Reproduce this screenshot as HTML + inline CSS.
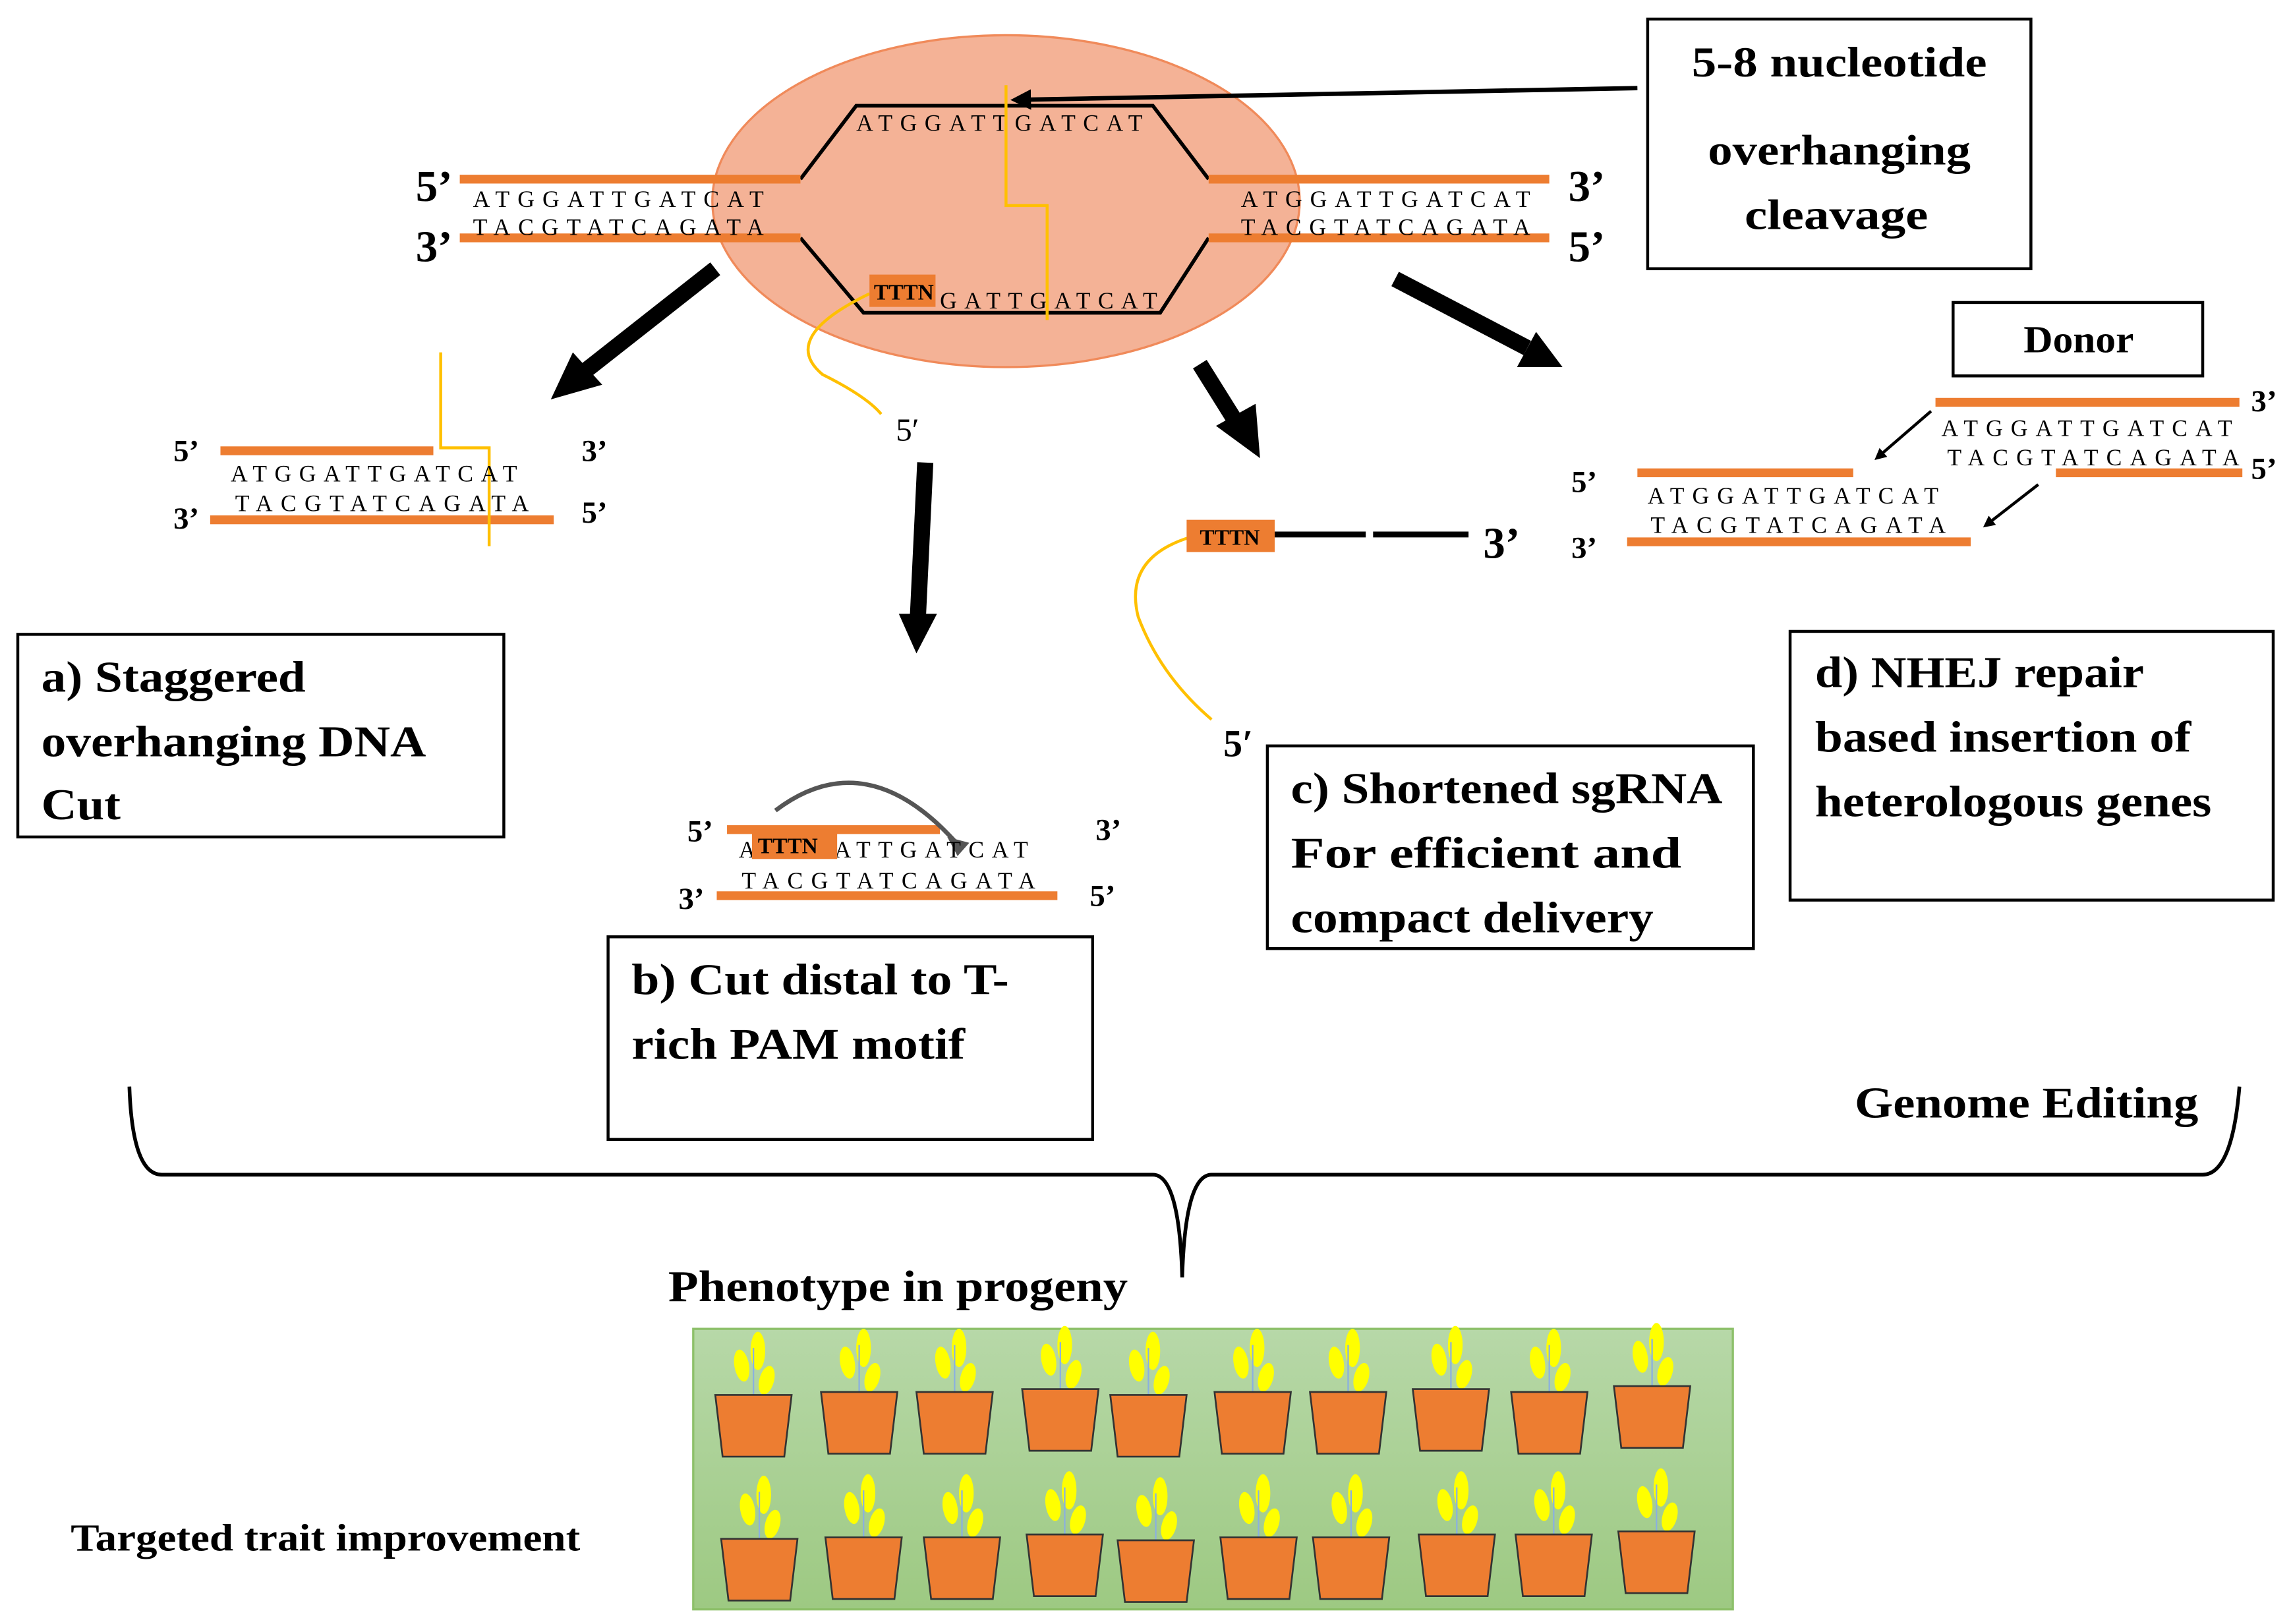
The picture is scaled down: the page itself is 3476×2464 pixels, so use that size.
<!DOCTYPE html>
<html><head><meta charset="utf-8"><style>
html,body{margin:0;padding:0;background:#fff;}
svg{display:block;}
text{font-family:"Liberation Serif",serif;}
.b{font-weight:bold;}
</style></head><body>
<svg width="3476" height="2464" viewBox="0 0 1560 1106" xmlns="http://www.w3.org/2000/svg">
<defs>
<linearGradient id="g" x1="0" y1="0" x2="0" y2="1"><stop offset="0" stop-color="#b7d8a8"/><stop offset="1" stop-color="#9dc982"/></linearGradient>
<marker id="ah" markerWidth="8" markerHeight="8" refX="6" refY="4" orient="auto" markerUnits="userSpaceOnUse"><path d="M0,0 L8,4 L0,8 Z" fill="#000"/></marker>
<marker id="ah2" markerWidth="14" markerHeight="14" refX="10" refY="7" orient="auto" markerUnits="userSpaceOnUse"><path d="M0,0 L14,7 L0,14 Z" fill="#000"/></marker>
<g id="pot">
<ellipse cx="3" cy="-30" rx="5" ry="13" fill="#ffff00"/>
<ellipse cx="-8" cy="-20" rx="5" ry="11" fill="#ffff00" transform="rotate(-10 -8 -20)"/>
<ellipse cx="9" cy="-10" rx="5" ry="10" fill="#ffff00" transform="rotate(15 9 -10)"/>
<line x1="0" y1="-32" x2="0" y2="0" stroke="#8ab0e0" stroke-width="1"/>
<path d="M-26,0 L26,0 L21,42 L-21,42 Z" fill="#ed7d31" stroke="#333" stroke-width="1.2"/>
</g>
</defs>

<ellipse cx="685" cy="137" rx="200" ry="113" fill="#f4b296" stroke="#f08a5a" stroke-width="1.5"/>
<path d="M545,122 L583,72 L785,72 L823,122" fill="none" stroke="#000" stroke-width="2.5"/>
<path d="M545,162 L588,213 L790,213 L823,162" fill="none" stroke="#000" stroke-width="2.5"/>
<g fill="#ed7d31">
<rect x="313" y="119" width="232" height="6"/>
<rect x="313" y="159" width="232" height="6"/>
<rect x="823" y="119" width="232" height="6"/>
<rect x="823" y="159" width="232" height="6"/>
</g>
<g font-size="16">
<text x="583" y="89" textLength="195" lengthAdjust="spacing">ATGGATTGATCAT</text>
<text x="322" y="141" textLength="198" lengthAdjust="spacing">ATGGATTGATCAT</text>
<text x="322" y="160" textLength="198" lengthAdjust="spacing">TACGTATCAGATA</text>
<text x="845" y="141" textLength="197" lengthAdjust="spacing">ATGGATTGATCAT</text>
<text x="845" y="160" textLength="197" lengthAdjust="spacing">TACGTATCAGATA</text>
<text x="640" y="210" textLength="148" lengthAdjust="spacing">GATTGATCAT</text>
</g>
<g class="b" font-size="30">
<text x="283" y="137">5’</text><text x="283" y="178">3’</text>
<text x="1068" y="137">3’</text><text x="1068" y="178">5’</text>
</g>
<path d="M685,58 L685,140 L713,140 L713,218" fill="none" stroke="#ffc000" stroke-width="2"/>
<path d="M592,200 Q530,230 560,255 Q590,270 600,282" fill="none" stroke="#ffc000" stroke-width="2"/>
<rect x="592" y="187" width="45" height="22" fill="#ed7d31"/>
<text x="595" y="204" font-size="15" class="b">TTTN</text>
<text x="610" y="300" font-size="22">5′</text>
<rect x="1122" y="13" width="261" height="170" fill="#fff" stroke="#000" stroke-width="2"/>
<g class="b" font-size="29">
<text x="1152" y="52" textLength="201" lengthAdjust="spacingAndGlyphs">5-8 nucleotide</text>
<text x="1163" y="112" textLength="179" lengthAdjust="spacingAndGlyphs">overhanging</text>
<text x="1188" y="156" textLength="125" lengthAdjust="spacingAndGlyphs">cleavage</text>
</g>
<line x1="1115" y1="60" x2="692" y2="68" stroke="#000" stroke-width="3" marker-end="url(#ah2)"/>
<g stroke="#000" stroke-width="11" fill="none">
<line x1="487" y1="183" x2="398" y2="253"/>
<line x1="630" y1="315" x2="625" y2="420"/>
<line x1="817" y1="248" x2="842" y2="288"/>
<line x1="950" y1="190" x2="1040" y2="237"/>
</g>
<g fill="#000">
<path d="M375,272 L390,240 L410,262Z"/>
<path d="M612,418 L638,418 L624,445Z"/>
<path d="M858,312 L828,290 L855,275Z"/>
<path d="M1064,250 L1033,250 L1046,226Z"/>
</g>
<!-- a) -->
<rect x="150" y="304" width="145" height="6" fill="#ed7d31"/>
<rect x="143" y="351" width="234" height="6" fill="#ed7d31"/>
<path d="M300,240 L300,305 L333,305 L333,372" fill="none" stroke="#ffc000" stroke-width="2"/>
<g font-size="16">
<text x="157" y="328" textLength="195" lengthAdjust="spacing">ATGGATTGATCAT</text>
<text x="160" y="348" textLength="200" lengthAdjust="spacing">TACGTATCAGATA</text>
</g>
<g class="b" font-size="21">
<text x="118" y="314">5’</text><text x="118" y="360">3’</text>
<text x="396" y="314">3’</text><text x="396" y="356">5’</text>
</g>
<rect x="12" y="432" width="331" height="138" fill="#fff" stroke="#000" stroke-width="2"/>
<g class="b" font-size="30">
<text x="28" y="471" textLength="180" lengthAdjust="spacingAndGlyphs">a) Staggered</text>
<text x="28" y="515" textLength="262" lengthAdjust="spacingAndGlyphs">overhanging DNA</text>
<text x="28" y="558" textLength="54" lengthAdjust="spacingAndGlyphs">Cut</text></g>
<!-- b) -->
<rect x="495" y="562" width="145" height="6" fill="#ed7d31"/>
<rect x="488" y="607" width="232" height="6" fill="#ed7d31"/>
<path d="M528,552 Q590,505 652,575" fill="none" stroke="#555" stroke-width="3"/>
<path d="M645,570 L660,574 L652,583Z" fill="#555"/>
<g font-size="16">
<text x="503" y="584">A</text>
<text x="568" y="584" textLength="132" lengthAdjust="spacing">ATTGATCAT</text>
<text x="505" y="605" textLength="200" lengthAdjust="spacing">TACGTATCAGATA</text>
</g>
<rect x="512" y="565" width="58" height="20" fill="#ed7d31"/>
<text x="516" y="581" font-size="15" class="b">TTTN</text>
<g class="b" font-size="21">
<text x="468" y="573">5’</text><text x="462" y="619">3’</text>
<text x="746" y="572">3’</text><text x="742" y="617">5’</text>
</g>
<rect x="414" y="638" width="330" height="138" fill="#fff" stroke="#000" stroke-width="2"/>
<g class="b" font-size="30">
<text x="430" y="677" textLength="257" lengthAdjust="spacingAndGlyphs">b) Cut distal to T-</text>
<text x="430" y="721" textLength="227" lengthAdjust="spacingAndGlyphs">rich PAM motif</text></g>
<!-- c) -->
<line x1="868" y1="364" x2="930" y2="364" stroke="#000" stroke-width="4"/>
<line x1="935" y1="364" x2="1000" y2="364" stroke="#000" stroke-width="4"/>
<path d="M810,366 Q765,380 775,420 Q790,460 825,490" fill="none" stroke="#ffc000" stroke-width="2"/>
<rect x="808" y="354" width="60" height="22" fill="#ed7d31"/>
<text x="817" y="371" font-size="15" class="b">TTTN</text>
<text x="1010" y="380" font-size="30" class="b">3’</text>
<text x="833" y="515" font-size="26" class="b">5′</text>
<rect x="863" y="508" width="331" height="138" fill="#fff" stroke="#000" stroke-width="2"/>
<g class="b" font-size="30">
<text x="879" y="547" textLength="294" lengthAdjust="spacingAndGlyphs">c) Shortened sgRNA</text>
<text x="879" y="591" textLength="266" lengthAdjust="spacingAndGlyphs">For efficient and</text>
<text x="879" y="635" textLength="247" lengthAdjust="spacingAndGlyphs">compact delivery</text></g>
<!-- d) -->
<rect x="1330" y="206" width="170" height="50" fill="#fff" stroke="#000" stroke-width="2"/>
<text x="1378" y="240" font-size="26" class="b" textLength="75" lengthAdjust="spacingAndGlyphs">Donor</text>
<rect x="1318" y="271" width="207" height="6" fill="#ed7d31"/>
<rect x="1400" y="319" width="127" height="6" fill="#ed7d31"/>
<rect x="1115" y="319" width="147" height="6" fill="#ed7d31"/>
<rect x="1108" y="366" width="234" height="6" fill="#ed7d31"/>
<g font-size="16">
<text x="1322" y="297" textLength="198" lengthAdjust="spacing">ATGGATTGATCAT</text>
<text x="1326" y="317" textLength="199" lengthAdjust="spacing">TACGTATCAGATA</text>
<text x="1122" y="343" textLength="198" lengthAdjust="spacing">ATGGATTGATCAT</text>
<text x="1124" y="363" textLength="201" lengthAdjust="spacing">TACGTATCAGATA</text>
</g>
<g class="b" font-size="21">
<text x="1533" y="280">3’</text><text x="1533" y="326">5’</text>
<text x="1070" y="335">5’</text><text x="1070" y="380">3’</text>
</g>
<line x1="1315" y1="280" x2="1278" y2="312" stroke="#000" stroke-width="2" marker-end="url(#ah)"/>
<line x1="1388" y1="330" x2="1352" y2="358" stroke="#000" stroke-width="2" marker-end="url(#ah)"/>
<rect x="1219" y="430" width="329" height="183" fill="#fff" stroke="#000" stroke-width="2"/>
<g class="b" font-size="30">
<text x="1236" y="468" textLength="224" lengthAdjust="spacingAndGlyphs">d) NHEJ repair</text>
<text x="1236" y="512" textLength="256" lengthAdjust="spacingAndGlyphs">based insertion of</text>
<text x="1236" y="556" textLength="270" lengthAdjust="spacingAndGlyphs">heterologous genes</text></g>
<path d="M88,740 Q90,800 110,800 L785,800 Q803,800 805,870 Q807,800 825,800 L1500,800 Q1520,800 1525,740" fill="none" stroke="#000" stroke-width="2.5"/>
<text x="1263" y="761" font-size="30" class="b" textLength="234" lengthAdjust="spacingAndGlyphs">Genome Editing</text>
<text x="455" y="886" font-size="30" class="b" textLength="313" lengthAdjust="spacingAndGlyphs">Phenotype in progeny</text>
<text x="48" y="1056" font-size="26" class="b" textLength="347" lengthAdjust="spacingAndGlyphs">Targeted trait improvement</text>
<rect x="472" y="905" width="708" height="191" fill="url(#g)" stroke="#8dc06a" stroke-width="1.5"/>
<g>
<use href="#pot" x="513" y="950"/><use href="#pot" x="585" y="948"/><use href="#pot" x="650" y="948"/><use href="#pot" x="722" y="946"/><use href="#pot" x="782" y="950"/><use href="#pot" x="853" y="948"/><use href="#pot" x="918" y="948"/><use href="#pot" x="988" y="946"/><use href="#pot" x="1055" y="948"/><use href="#pot" x="1125" y="944"/>
<use href="#pot" x="517" y="1048"/><use href="#pot" x="588" y="1047"/><use href="#pot" x="655" y="1047"/><use href="#pot" x="725" y="1045"/><use href="#pot" x="787" y="1049"/><use href="#pot" x="857" y="1047"/><use href="#pot" x="920" y="1047"/><use href="#pot" x="992" y="1045"/><use href="#pot" x="1058" y="1045"/><use href="#pot" x="1128" y="1043"/>
</g>
</svg>
</body></html>
